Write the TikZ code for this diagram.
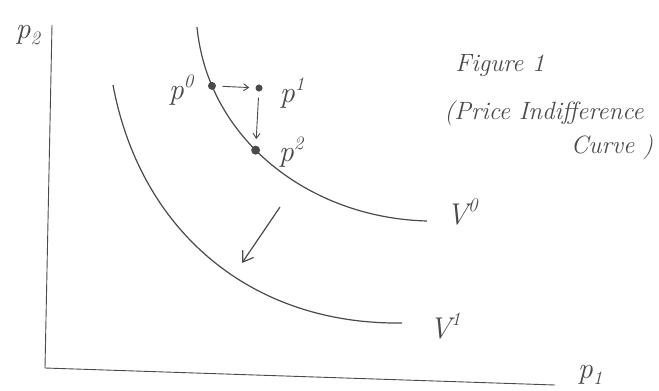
\documentclass[tikz,border=0pt]{standalone}
\usepackage{fontspec}
\usetikzlibrary{arrows.meta}
\definecolor{pencil}{HTML}{4A4A4A}
\newcommand{\hi}[1]{\raisebox{0.42em}{\fontsize{19}{20}\selectfont #1}}
\newcommand{\lo}[1]{\raisebox{-0.2em}{\fontsize{19}{20}\selectfont #1}}
\begin{document}
\begin{tikzpicture}[x=1pt,y=-1pt,
  axis/.style={draw=pencil,line width=0.9pt},
  curve/.style={draw=pencil,line width=1.2pt},
  dot/.style={circle,fill=pencil,inner sep=0pt,minimum size=#1},
  lbl/.style={text=pencil,font=\fontsize{30}{32}\selectfont\itshape},
  note/.style={text=pencil,font=\fontsize{25}{28}\selectfont\itshape},
  arr/.style={draw=pencil,line width=0.9pt,shorten <=6pt,shorten >=6pt,-{Straight Barb[length=5pt,width=7pt]}}]
\useasboundingbox (0,0) rectangle (659,391);
\fill[white] (0,0) rectangle (659,391);
% axes
\coordinate (ytop) at (52,25);
\coordinate (orig) at (45,368);
\coordinate (xend) at (555,385);
\draw[axis] (ytop) -- (orig) -- (xend);
\node[lbl] (p2ax) at (28,35) {p\lo{2}};
\node[lbl] (p1ax) at (590,375) {p\lo{1}};
% curves with the points on V0
\coordinate (v0a) at (197,27);
\coordinate (v0b) at (427,221);
\coordinate (v1a) at (113,85);
\coordinate (v1b) at (402,323);
\draw[curve] (v0a) .. controls (208,140) and (310,218) .. (v0b)
  node[dot=8pt,pos=0.185] (P0) {}
  node[dot=9pt,pos=0.43] (P2) {};
\draw[curve] (v1a) .. controls (140,230) and (250,325) .. (v1b);
\node[lbl] (v0) at (462,212) {V\hi{0}};
\node[lbl] (v1) at (445,326) {V\hi{1}};
% off-curve point
\node[dot=7pt] (P1) at (259,88) {};
\node[lbl] (P0l) at (181,90) {p\hi{0}};
\node[lbl] (P1l) at (292,93) {p\hi{1}};
\node[lbl] (P2l) at (291,152) {p\hi{2}};
\draw[arr] (P0) -- (P1);
\draw[arr] (P1) -- (P2);
% shift arrow
\coordinate (sa) at (280,207);
\coordinate (sb) at (242,263);
\draw[curve,-{Straight Barb[length=10pt,width=13pt]}] (sa) -- (sb);
% caption
\node[note] (fig) at (500,66) {Figure 1};
\node[note] (cap1) at (544,113) {(Price Indifference};
\node[note] (cap2) at (612,147) {Curve )};
\end{tikzpicture}
\end{document}
